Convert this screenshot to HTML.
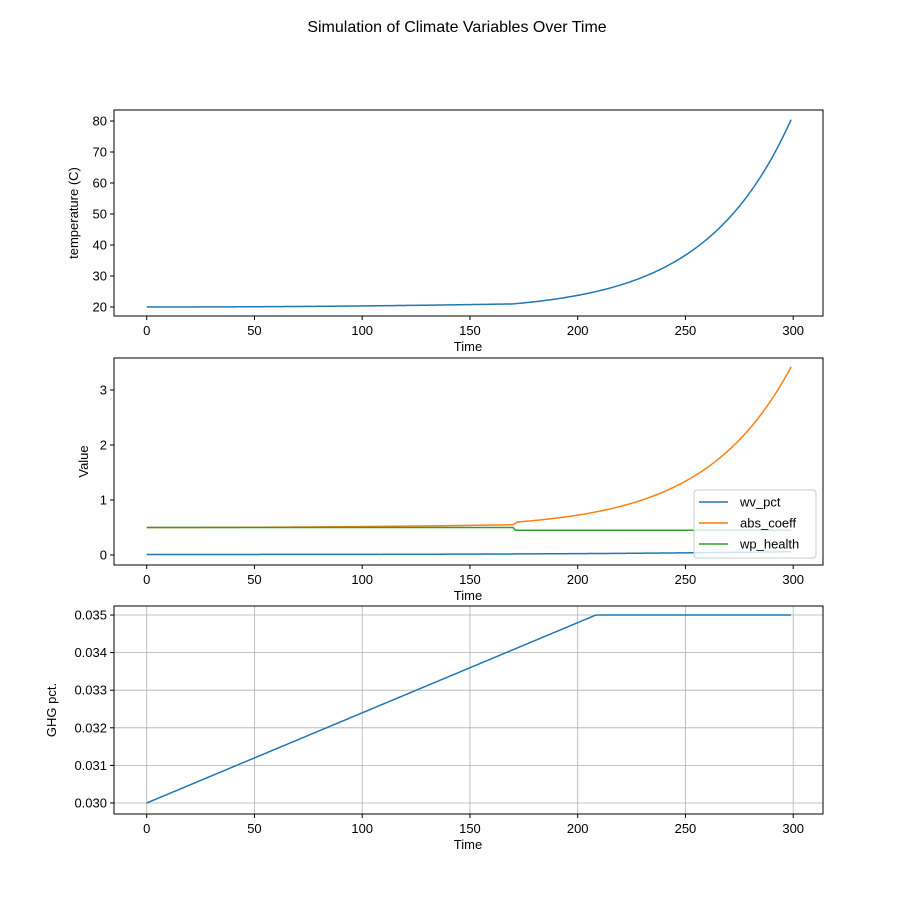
<!DOCTYPE html>
<html><head><meta charset="utf-8"><style>
body{margin:0;background:#fff}
svg text{font-family:"Liberation Sans","DejaVu Sans",sans-serif;fill:#000}
</style></head><body>
<svg id="s" width="914" height="913" xmlns="http://www.w3.org/2000/svg">
<rect width="914" height="913" fill="#fff"/>
<text x="457" y="32" font-size="16" text-anchor="middle">Simulation of Climate Variables Over Time</text>
<g id="g"></g>
</svg>
<script>
var g=document.getElementById('g'),h='';
function X(t){return 146.7+2.155*t;}
var L=114,R=823;
function axes(top,bot,yt,yl,grid){
  var o='';
  if(grid){[0,50,100,150,200,250,300].forEach(function(t){o+='<line x1="'+X(t)+'" x2="'+X(t)+'" y1="'+top+'" y2="'+bot+'" stroke="#b0b0b0" stroke-width="0.8"/>';});
  yt.forEach(function(a){o+='<line x1="'+L+'" x2="'+R+'" y1="'+a[0]+'" y2="'+a[0]+'" stroke="#b0b0b0" stroke-width="0.8"/>';});}
  [0,50,100,150,200,250,300].forEach(function(t){o+='<line x1="'+X(t)+'" x2="'+X(t)+'" y1="'+bot+'" y2="'+(bot+4)+'" stroke="#000"/><text x="'+X(t)+'" y="'+(bot+19)+'" font-size="13" text-anchor="middle">'+t+'</text>';});
  yt.forEach(function(a){o+='<line x1="'+(L-4)+'" x2="'+L+'" y1="'+a[0]+'" y2="'+a[0]+'" stroke="#000"/><text x="'+(L-7)+'" y="'+(a[0]+4.5)+'" font-size="13" text-anchor="end">'+a[1]+'</text>';});
  o+='<text x="468" y="'+(bot+35)+'" font-size="13" text-anchor="middle">Time</text>';
  var my=(top+bot)/2;o+='<text x="0" y="0" font-size="13" text-anchor="middle" transform="translate('+yl[1]+','+my+') rotate(-90)">'+yl[0]+'</text>';
  return o;
}
function frame(top,bot){return '<rect x="'+L+'" y="'+top+'" width="'+(R-L)+'" height="'+(bot-top)+'" fill="none" stroke="#000" stroke-width="1"/>';}
function path(f,c){var d='';for(var t=0;t<=299;t+=1){d+=(t?'L':'M')+X(t).toFixed(2)+','+f(t).toFixed(2);}return '<path d="'+d+'" fill="none" stroke="'+c+'" stroke-width="1.5"/>';}
var Y1=function(v){return 307-(v-20)*3.1;};
var yt=[];for(var v=20;v<=80;v+=10)yt.push([Y1(v),v]);
h+=axes(110,316,yt,['temperature (C)',78]);
h+=path(function(t){var T=t<=170?20+Math.pow(t/170,2)*1.0:21+2.46*(Math.exp(0.025*(t-170))-1);return Y1(T);},'#1f77b4');
h+=frame(110,316);
var Y2=function(v){return 555-v*55;};
yt=[];for(v=0;v<=3;v++)yt.push([Y2(v),v]);
h+=axes(358,565,yt,['Value',88]);
h+=path(function(t){return Y2(0.01+0.05*Math.pow(t/299,3));},'#1f77b4');
h+=path(function(t){var a=t<=170?0.5+0.05*Math.pow(t/170,2):(t<172?0.55+0.025*(t-170):0.6+0.123*(Math.exp(0.025*(t-172))-1));return Y2(a);},'#ff7f0e');
h+=path(function(t){return Y2(t<=170?0.5:0.45);},'#2ca02c');
h+=frame(358,565);
h+='<rect x="694" y="490" width="122" height="68" rx="3" fill="#fff" fill-opacity="0.8" stroke="#ccc"/>';
[['wv_pct','#1f77b4',502],['abs_coeff','#ff7f0e',523],['wp_health','#2ca02c',544]].forEach(function(a){h+='<line x1="699" x2="728" y1="'+a[2]+'" y2="'+a[2]+'" stroke="'+a[1]+'" stroke-width="1.5"/><text x="740" y="'+(a[2]+4.5)+'" font-size="13">'+a[0]+'</text>';});
var Y3=function(v){return 803-(v-0.030)*37600;};
yt=[];for(var i=0;i<=5;i++)yt.push([Y3(0.030+i*0.001),(0.030+i*0.001).toFixed(3)]);
h+=axes(606,814,yt,['GHG pct.',56],true);
h+=path(function(t){return Y3(t<=208.5?0.030+0.005*t/208.5:0.035);},'#1f77b4');
h+=frame(606,814);
g.innerHTML=h;
</script>
</body></html>
